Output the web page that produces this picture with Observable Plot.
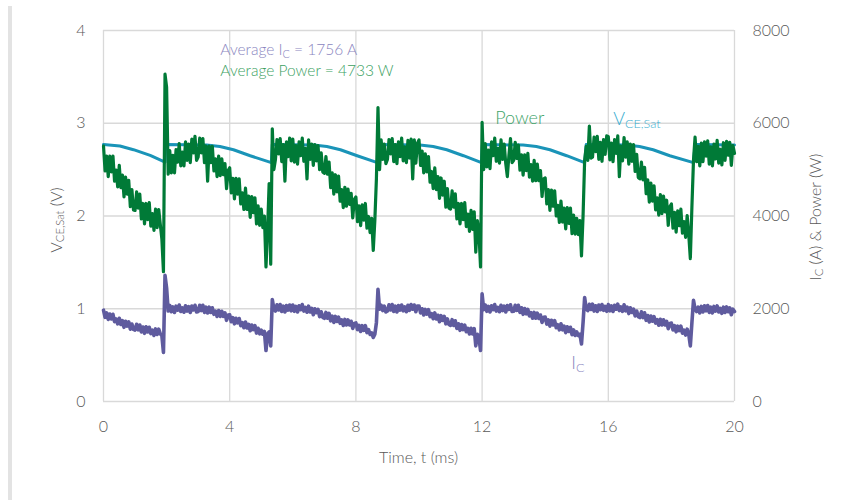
<!DOCTYPE html>
<html><head><meta charset="utf-8">
<script src="https://cdn.jsdelivr.net/npm/d3@7"></script>
<script src="https://cdn.jsdelivr.net/npm/@observablehq/plot@0.6"></script>
<style>
body{margin:0;background:#fff;}
#wrap{position:relative;width:846px;height:500px;overflow:hidden;background:#fff;}
#edge{position:absolute;left:8px;top:6px;width:4px;height:494px;background:#e3e3e3;}
#chart{position:absolute;left:0;top:0;}
</style></head><body><div id="wrap"><div id="edge"></div><div id="chart"></div></div>
<script>
// ---- tick labels ----
const timeTicks = [0, 4, 8, 12, 16, 20];
const vceTicks = [0, 1, 2, 3, 4];
const rightTicks = [0, 2000, 4000, 6000, 8000];

// ---- annotation values ----
const avgIc = 1756;
const avgPower = 4733;

// ---- V_CE,Sat (V), smooth trace: time (ms) / value ----
const vceT = [0, 0.52, 0.95, 1.48, 1.95, 1.97, 3.27, 3.69, 4.12, 4.65, 5.32, 5.35, 6.66, 7.08, 7.51, 8.04, 8.68, 8.71, 10.03, 10.45, 10.88, 11.41, 11.98, 12.01, 13.3, 13.72, 14.15, 14.68, 15.25, 15.3, 16.57, 16.99, 17.42, 17.95, 18.7, 18.75, 20];
const vceV = [2.77, 2.755, 2.715, 2.653, 2.58, 2.77, 2.765, 2.75, 2.714, 2.65, 2.575, 2.77, 2.765, 2.75, 2.714, 2.65, 2.575, 2.77, 2.765, 2.75, 2.714, 2.65, 2.575, 2.77, 2.765, 2.75, 2.714, 2.65, 2.575, 2.77, 2.765, 2.75, 2.714, 2.65, 2.575, 2.77, 2.765];

// ---- sampled traces, one sample every 0.05 ms from 0 to 20 ms ----
const sampleMs = 0.05;
const powerW = [
5510,4970,5290,4850,5290,4950,5290,4750,4990,4630,5090,4610,4880,4410,4840,4470,4770,4200,4570,4130,
4120,4520,4170,4470,3940,4270,3830,4270,3920,4290,3780,4050,3690,4150,3750,4140,3820,3500,2800,7060,
6780,4900,5410,4930,5310,4930,5430,5160,5560,5080,5380,5080,5600,5200,5550,5150,5660,5360,5720,5200,
5270,5680,5360,5670,5150,5510,4750,5510,5150,5500,4970,5230,4850,5290,4870,5230,4890,5130,4590,4980,
5040,4500,4810,4370,4810,4470,4800,4260,4500,4140,4600,4140,4430,3970,4420,4070,4390,3830,4220,3800,
4150,3750,4000,2900,3700,4700,2960,5880,5000,5220,5650,5340,5670,5170,5540,4750,5600,5280,5680,5190,
5660,5160,5520,5120,5600,5300,5680,5180,5460,4800,5640,5220,5550,5090,5540,5190,5520,5000,5360,4950,
4920,5280,4900,5160,4610,4930,4470,4890,4520,4860,4320,4570,4180,4620,4210,4580,4250,4490,3960,4360,
4410,3880,4220,3790,4240,3910,4270,3740,3990,3640,3950,3260,3900,4800,6340,5000,5640,5220,5550,5130,
5220,5650,5340,5670,5170,5540,5130,5600,5280,5680,5190,5490,5150,5630,5250,5660,4800,5640,5140,5570,
5640,5090,5400,4930,5340,4950,5280,4730,4960,4590,5040,4570,4850,4380,4820,4450,4750,4190,4590,4170,
4150,4540,4190,4480,3940,4270,3830,4270,3920,4290,3770,4040,3670,4120,3710,4090,3220,3900,3650,2900,
6020,5000,5560,5060,5420,5020,5600,5300,5680,5180,5460,5140,5640,5220,5550,5130,4850,5310,5670,5150,
5200,5590,5240,5530,4990,5320,4880,5320,4980,5350,4840,5110,4750,5200,4760,5120,4760,4980,4420,4800,
4820,4260,4570,4120,4560,4210,4540,4000,4230,3860,4320,3870,4170,3720,4180,3840,4170,3620,4020,3610,
3950,3600,3900,3140,4000,5200,5500,5200,5940,5250,5270,5700,5390,5720,5220,5590,5180,5650,5330,5730,
5710,5210,5570,5170,5650,5350,5730,4850,5510,5190,5690,5270,5600,5120,5550,5180,5540,4960,5330,4830,
4800,5160,4780,5050,4480,4780,4300,4710,4320,4650,4130,4390,4020,4460,4050,4430,4090,4340,3800,4200,
4260,3740,4080,3650,4110,3790,4150,3630,3880,3540,4010,3600,3080,4200,5200,5700,5170,5500,5080,5570,
5170,5600,5290,5620,5120,5490,5080,5550,5230,5630,5140,5440,5100,5580,5200,5610,5310,5590,5090,5520,5350
];
const icA = [
1970,1815,1910,1770,1885,1780,1880,1720,1780,1675,1795,1660,1745,1600,1730,1625,1715,1560,1670,1555,
1540,1665,1545,1650,1500,1605,1470,1610,1500,1600,1465,1540,1425,1565,1445,1560,1460,1420,1060,2720,
2450,1950,2070,1935,2040,1920,2055,1970,2080,1940,2020,1925,2065,1950,2045,1920,2060,1975,2075,1930,
1940,2075,1960,2075,1920,2035,1910,2035,1920,2020,1880,1950,1835,1960,1835,1945,1835,1910,1750,1865,
1870,1720,1810,1675,1795,1695,1790,1635,1700,1590,1715,1585,1665,1525,1650,1550,1635,1475,1580,1460,
1540,1450,1510,1100,1460,1500,1200,2200,2000,1950,2085,1975,2090,1940,2055,1930,2070,1970,2080,1955,
2080,1945,2050,1930,2065,1980,2090,1950,2030,1925,2055,1930,2010,1870,2000,1915,1985,1830,1935,1815,
1795,1920,1795,1900,1740,1840,1705,1835,1725,1820,1685,1760,1640,1770,1650,1760,1650,1730,1575,1685,
1695,1550,1640,1510,1635,1535,1635,1485,1550,1445,1480,1380,1450,1700,2420,1990,2075,1960,2055,1930,
1950,2085,1975,2090,1940,2055,1930,2070,1970,2080,1955,2040,1935,2075,1965,2090,1990,2080,1935,2060,
2060,1910,2000,1865,1985,1885,1980,1830,1895,1785,1910,1780,1860,1720,1850,1750,1835,1675,1780,1660,
1640,1765,1640,1740,1575,1675,1535,1660,1550,1645,1505,1575,1455,1580,1455,1570,1200,1450,1380,1100,
2320,1980,2080,1945,2050,1930,2065,1980,2090,1950,2030,1935,2075,1960,2055,1930,2070,1985,2085,1940,
1945,2075,1965,2075,1920,2020,1880,2005,1890,1985,1845,1915,1795,1920,1795,1905,1790,1865,1705,1815,
1820,1670,1760,1625,1750,1650,1745,1590,1655,1545,1675,1545,1625,1485,1610,1510,1600,1440,1545,1425,
1500,1420,1450,1240,1700,2240,2000,1960,2095,1985,2100,1950,2065,1940,2080,1980,2090,1965,2050,1945,
2090,1955,2060,1940,2075,1990,2100,1960,2040,1945,2085,1955,2035,1895,2020,1920,1990,1845,1950,1830,
1810,1933,1810,1913,1750,1853,1715,1843,1730,1828,1690,1763,1645,1773,1650,1763,1650,1728,1570,1683,
1690,1543,1635,1503,1625,1528,1625,1473,1540,1433,1560,1450,1200,1700,2180,2000,1940,2035,1910,2050,
1930,2065,1955,2070,1920,2035,1910,2050,1950,2060,1930,2010,1900,2035,1920,2040,1935,2020,1870,1990,1940
];

// ---- build tables ----
const RATIO = rightTicks[rightTicks.length - 1] / vceTicks[vceTicks.length - 1];
const vce = vceT.map((t, i) => ({t, v: vceV[i]}));
const power = powerW.map((w, i) => ({t: i * sampleMs, v: w / RATIO}));
const ic = icA.map((a, i) => ({t: i * sampleMs, v: a / RATIO}));

const FONT = "Lato, 'Open Sans', sans-serif";
const TXT = "#595959";

const plot = Plot.plot({
  width: 846, height: 500,
  marginLeft: 103, marginRight: 112, marginTop: 30, marginBottom: 99,
  style: {fontFamily: FONT, fontSize: "16px", color: TXT, background: "transparent", fontWeight: 300},
  x: {domain: [0, 20]},
  y: {domain: [0, 4]},
  marks: [
    Plot.gridX(timeTicks, {stroke: "#d9d9d9", strokeOpacity: 1, strokeWidth: 1.3}),
    Plot.gridY(vceTicks, {stroke: "#d9d9d9", strokeOpacity: 1, strokeWidth: 1.3}),
    Plot.axisX(timeTicks, {tickSize: 0, tickPadding: 19, label: null, fontSize: 16, tickFormat: d => String(d)}),
    Plot.axisY(vceTicks, {anchor: "left", tickSize: 0, tickPadding: 18, label: null, fontSize: 16, tickFormat: d => String(d)}),
    Plot.axisY(rightTicks.map(d => d / RATIO), {anchor: "right", tickSize: 0, tickPadding: 18, label: null, fontSize: 16,
      tickFormat: d => String(Math.round(d * RATIO))}),
    Plot.line(vce, {x: "t", y: "v", stroke: "#1a94b8", strokeWidth: 3}),
    Plot.line(power, {x: "t", y: "v", stroke: "#007a37", strokeWidth: 3.2}),
    Plot.line(ic, {x: "t", y: "v", stroke: "#5f5b9e", strokeWidth: 3.6})
  ]
});
document.getElementById("chart").appendChild(plot);

const sx = plot.scale("x"), sy = plot.scale("y");
const svg = d3.select(plot);

function label(parts, x, y, opts = {}) {
  const size = opts.size || 16;
  const t = svg.append("text")
    .attr("x", x).attr("y", y)
    .attr("fill", opts.fill || TXT)
    .attr("font-family", FONT)
    .attr("font-weight", 300)
    .attr("font-size", size)
    .attr("text-anchor", opts.anchor || "start")
    .attr("dominant-baseline", "central");
  if (opts.rotate) t.attr("transform", `rotate(-90 ${x} ${y})`);
  let shift = 0;
  for (const p of parts) {
    const sub = typeof p === "object";
    const s = t.append("tspan").text(sub ? p.sub : p);
    const want = sub ? 0.25 * size : 0;
    if (want !== shift) { s.attr("dy", want - shift); shift = want; }
    if (sub) s.attr("font-size", 0.7 * size);
  }
  return t;
}

// axis titles
label(["Time, t (ms)"], (sx.apply(0) + sx.apply(20)) / 2, 456, {anchor: "middle"});
label(["V", {sub: "CE,Sat"}, " (V)"], 55, 220, {anchor: "middle", rotate: true});
label(["I", {sub: "C"}, " (A) & Power (W)"], 814, 217, {anchor: "middle", rotate: true});

// annotations
label(["Average I", {sub: "C"}, ` = ${avgIc} A`], sx.apply(3.72), sy.apply(3.795), {fill: "#8a86c0", size: 15.5});
label([`Average Power = ${avgPower} W`], sx.apply(3.72), sy.apply(3.57), {fill: "#3c9f5f", size: 15.5});
label(["Power"], sx.apply(12.43), sy.apply(3.06), {fill: "#3fa46a", size: 18});
label(["V", {sub: "CE,Sat"}], sx.apply(16.17), sy.apply(3.05), {fill: "#3aaed0", size: 18});
label(["I", {sub: "C"}], sx.apply(14.84), sy.apply(0.42), {fill: "#8a86c0", size: 18});
</script>
</body></html>
